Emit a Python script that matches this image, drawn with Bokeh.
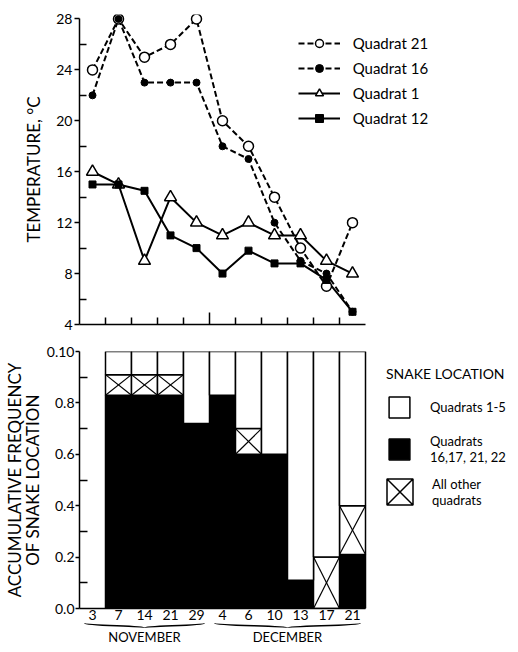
import numpy as np
from bokeh.plotting import figure
from bokeh.models import FixedTicker, Legend, LegendItem, Range1d, ColumnDataSource
from bokeh.layouts import column
from bokeh.embed import file_html
from bokeh.resources import INLINE
from bokeh.core.properties import value

FONT = "Lato"
nan = float("nan")

# ---------------- data ----------------
dates = ["3", "7", "14", "21", "29", "4", "6", "10", "13", "17", "21"]
months = ["NOVEMBER"] * 5 + ["DECEMBER"] * 6

quadrat_21 = [24, 28, 25, 26, 28, 20, 18, 14, 10, 7, 12]
quadrat_16 = [22, 28, 23, 23, 23, 18, 17, 12, 9, 8, 5]
quadrat_1 = [16, 15, 9, 14, 12, 11, 12, 11, 11, 9, 8]
quadrat_12 = [15, 15, 14.5, 11, 10, 8, 9.8, 8.8, 8.8, 7.5, 5]

freq_16_17_21_22 = [nan, 0.83, 0.83, 0.83, 0.72, 0.83, 0.60, 0.60, 0.11, 0.0, 0.21]
freq_other = [nan, 0.08, 0.08, 0.08, 0.0, 0.0, 0.10, 0.0, 0.0, 0.20, 0.19]
freq_1_5 = [nan, 0.09, 0.09, 0.09, 0.28, 0.17, 0.30, 0.40, 0.89, 0.80, 0.60]

temp_ticks = [4, 8, 12, 16, 20, 24, 28]
temp_minor = [6, 10, 14, 18, 22, 26]
freq_ticks = [0.0, 0.2, 0.4, 0.6, 0.8, 1.0]
freq_tick_labels = ["0.0", "0.2", "0.4", "0.6", "0.8", "0.10"]
freq_minor = [0.1, 0.3, 0.5, 0.7, 0.9]

# ---------------- layout constants ----------------
CAT_PX = 26                      # pixels per date category
FRAME_W = 429                    # frame extends to the right edge (legends live inside)
LEFT = 73

n_cat = len(dates)
x = np.arange(n_cat, dtype=float)
x_range = Range1d(-0.5, -0.5 + FRAME_W / CAT_PX)
data_bounds = (-0.5, n_cat - 0.5)


def make_fig(frame_h, top, bottom, y_range, **kw):
    p = figure(frame_width=FRAME_W, frame_height=frame_h, x_range=x_range, y_range=y_range,
               min_border_left=LEFT, min_border_right=0, min_border_top=top,
               min_border_bottom=bottom, output_backend="svg", toolbar_location=None,
               outline_line_color=None, background_fill_color="white",
               border_fill_color="white", **kw)
    p.xgrid.visible = False
    p.ygrid.visible = False
    return p


def style_axis(ax):
    ax.axis_line_color = "black"
    ax.axis_line_width = 1.5
    ax.major_tick_line_color = "black"
    ax.major_tick_line_width = 1.5
    ax.minor_tick_line_color = "black"
    ax.minor_tick_line_width = 1.5
    ax.major_label_text_font = FONT
    ax.major_label_text_font_size = "14px"
    ax.major_label_text_color = "black"
    ax.axis_label_text_font = FONT
    ax.axis_label_text_font_size = "17px"
    ax.axis_label_text_font_style = "normal"
    ax.axis_label_text_color = "black"


# ---------------- top: temperature ----------------
top = make_fig(310, 14, 14, Range1d(4, 28.35))

src = ColumnDataSource(dict(x=x, q21=quadrat_21, q16=quadrat_16, q1=quadrat_1, q12=quadrat_12))

l21 = top.line("x", "q21", source=src, line_color="black", line_width=2, line_dash="6 3")
l16 = top.line("x", "q16", source=src, line_color="black", line_width=2, line_dash="6 3")
l1 = top.line("x", "q1", source=src, line_color="black", line_width=2)
l12 = top.line("x", "q12", source=src, line_color="black", line_width=2)
m21 = top.scatter("x", "q21", source=src, marker="circle", size=10, fill_color="white",
                  line_color="black", line_width=1.5)
m16 = top.scatter("x", "q16", source=src, marker="circle", size=7, fill_color="black",
                  line_color="black")
m1 = top.scatter("x", "q1", source=src, marker="triangle", size=12, fill_color="white",
                 line_color="black", line_width=1.5)
m12 = top.scatter("x", "q12", source=src, marker="square", size=7, fill_color="black",
                  line_color="black")

ya = top.yaxis[0]
style_axis(ya)
ya.ticker = FixedTicker(ticks=temp_ticks, minor_ticks=temp_minor)
ya.bounds = (4, 28)
ya.major_tick_in = 0
ya.major_tick_out = 5
ya.minor_tick_in = 7
ya.minor_tick_out = 0
ya.major_label_standoff = 2
ya.axis_label = "TEMPERATURE, °C"
ya.axis_label_standoff = 9

boundaries = list(x[:-1] + 0.5)
month_breaks = [bd for i, bd in enumerate(boundaries) if months[i] != months[i + 1]]
other_bounds = [bd for bd in boundaries if bd not in month_breaks]
xa = top.xaxis[0]
style_axis(xa)
xa.bounds = data_bounds
xa.ticker = FixedTicker(ticks=month_breaks, minor_ticks=other_bounds)
xa.major_tick_in = 12
xa.major_tick_out = 0
xa.minor_tick_in = 7
xa.minor_tick_out = 0
xa.major_label_overrides = {bd: "" for bd in month_breaks}
xa.major_label_text_font_size = "0px"
xa.major_label_standoff = 0

leg_top = Legend(
    items=[LegendItem(label="Quadrat 21", renderers=[l21, m21]),
           LegendItem(label="Quadrat 16", renderers=[l16, m16]),
           LegendItem(label="Quadrat 1", renderers=[l1, m1]),
           LegendItem(label="Quadrat 12", renderers=[l12, m12])],
    location=(234, 196), glyph_width=42, glyph_height=20, label_height=20, spacing=5,
    padding=0, margin=0, label_standoff=13, border_line_color=None,
    background_fill_color=None, label_text_font=FONT, label_text_font_size="15px",
    label_text_color="black")
top.add_layout(leg_top)

# ---------------- bottom: frequency ----------------
bot = make_fig(257, 13, 0, Range1d(0, 1.0))

b = np.array(freq_16_17_21_22)
c = np.array(freq_other)
w = np.array(freq_1_5)
bsrc = ColumnDataSource(dict(left=x - 0.5, right=x + 0.5, zero=np.zeros_like(b),
                             b_top=b, o_top=b + c, w_top=b + c + w))
r_black = bot.quad(left="left", right="right", bottom="zero", top="b_top", source=bsrc,
                   fill_color="black", line_color="black", line_width=1.5)
r_other = bot.quad(left="left", right="right", bottom="b_top", top="o_top", source=bsrc,
                   fill_color="white", line_color="black", line_width=1.5)
r_white = bot.quad(left="left", right="right", bottom="o_top", top="w_top", source=bsrc,
                   fill_color="white", line_color="black", line_width=1.5)

has_x = np.nan_to_num(c) > 0
lo = b[has_x]
hi = (b + c)[has_x]
xl = (x - 0.5)[has_x]
xr = (x + 0.5)[has_x]
ssrc = ColumnDataSource(dict(x0=np.concatenate([xl, xl]), y0=np.concatenate([lo, hi]),
                             x1=np.concatenate([xr, xr]), y1=np.concatenate([hi, lo])))
bot.segment(x0="x0", y0="y0", x1="x1", y1="y1", source=ssrc, line_color="black", line_width=1.2)

# legend proxy (draws no mark) for the crossed box
r_xproxy = bot.scatter(x=[nan], y=[nan], marker="square_x", size=26, fill_color="white",
                       line_color="black", line_width=1.5)

ya2 = bot.yaxis[0]
style_axis(ya2)
ya2.ticker = FixedTicker(ticks=freq_ticks, minor_ticks=freq_minor)
ya2.major_label_overrides = dict(zip(freq_ticks, freq_tick_labels))
ya2.major_tick_in = 0
ya2.major_tick_out = 4
ya2.minor_tick_in = 8
ya2.minor_tick_out = 0
ya2.major_label_standoff = 1
ya2.axis_label = "ACCUMULATIVE FREQUENCY\nOF SNAKE LOCATION"
ya2.axis_label_standoff = 1
ya2.axis_label_text_line_height = 0.85

xa2 = bot.xaxis[0]
style_axis(xa2)
xa2.bounds = data_bounds
xa2.ticker = FixedTicker(ticks=list(x))
xa2.major_label_overrides = {float(i): d for i, d in zip(x, dates)}
xa2.major_tick_in = 0
xa2.major_tick_out = 0
xa2.minor_tick_in = 0
xa2.minor_tick_out = 0
xa2.major_label_standoff = 1

leg1 = Legend(
    items=[LegendItem(label="Quadrats 1-5", renderers=[r_white]),
           LegendItem(label="Quadrats\n16,17, 21, 22", renderers=[r_black])],
    title="SNAKE LOCATION", location=(307, 143), glyph_width=26, glyph_height=26,
    label_height=26, spacing=13, padding=0, margin=0, label_standoff=18, title_standoff=12,
    border_line_color=None, background_fill_color=None,
    title_text_font=FONT, title_text_font_size="14px", title_text_font_style="normal",
    title_text_color="black",
    label_text_font=FONT, label_text_font_size="13px", label_text_color="black",
    label_text_line_height=0.95)
leg2 = Legend(
    items=[LegendItem(label="All other\nquadrats", renderers=[r_xproxy])],
    location=(288, 84), glyph_width=65, glyph_height=65, label_height=26, padding=0,
    margin=0, label_standoff=-2, border_line_color=None, background_fill_color=None,
    label_text_font=FONT, label_text_font_size="13px", label_text_color="black",
    label_text_line_height=0.95)
bot.add_layout(leg1)
bot.add_layout(leg2)

# ---------------- month strip: braces + month names ----------------
strip = make_fig(6, 0, 0, Range1d(-0.15, 1.15), y_axis_location=None)

groups = []
for mname in dict.fromkeys(months):
    idx = [i for i, mm in enumerate(months) if mm == mname]
    groups.append((mname, idx[0], idx[-1]))

pad = 0.3
g_start = np.array([g[1] - pad for g in groups], dtype=float)
g_end = np.array([g[2] + pad for g in groups], dtype=float)
g_mid = np.array([(g[1] + g[2]) / 2 for g in groups], dtype=float)
b_top, b_mid, b_tip = 1.0, 0.45, 0.0
ng = len(groups)
brace = ColumnDataSource(dict(
    x0=np.concatenate([g_start, g_end]), y0=np.full(2 * ng, b_top),
    x1=np.concatenate([g_mid, g_mid]), y1=np.full(2 * ng, b_tip),
    cx0=np.concatenate([g_start, g_end]), cy0=np.full(2 * ng, b_mid),
    cx1=np.concatenate([g_mid, g_mid]), cy1=np.full(2 * ng, b_mid)))
strip.bezier(x0="x0", y0="y0", x1="x1", y1="y1", cx0="cx0", cy0="cy0", cx1="cx1", cy1="cy1",
             source=brace, line_color="black", line_width=1.5)

xa3 = strip.xaxis[0]
style_axis(xa3)
xa3.ticker = FixedTicker(ticks=list(g_mid))
xa3.major_label_overrides = {float(m): g[0] for m, g in zip(g_mid, groups)}
xa3.major_label_text_font_size = "13px"
xa3.axis_line_color = None
xa3.major_tick_line_color = None
xa3.minor_tick_line_color = None
xa3.major_tick_in = 0
xa3.major_tick_out = 0
xa3.minor_tick_in = 0
xa3.minor_tick_out = 0
xa3.major_label_standoff = 0

layout = column(top, bot, strip, spacing=0)
open("out.html", "w").write(file_html(layout, INLINE))
